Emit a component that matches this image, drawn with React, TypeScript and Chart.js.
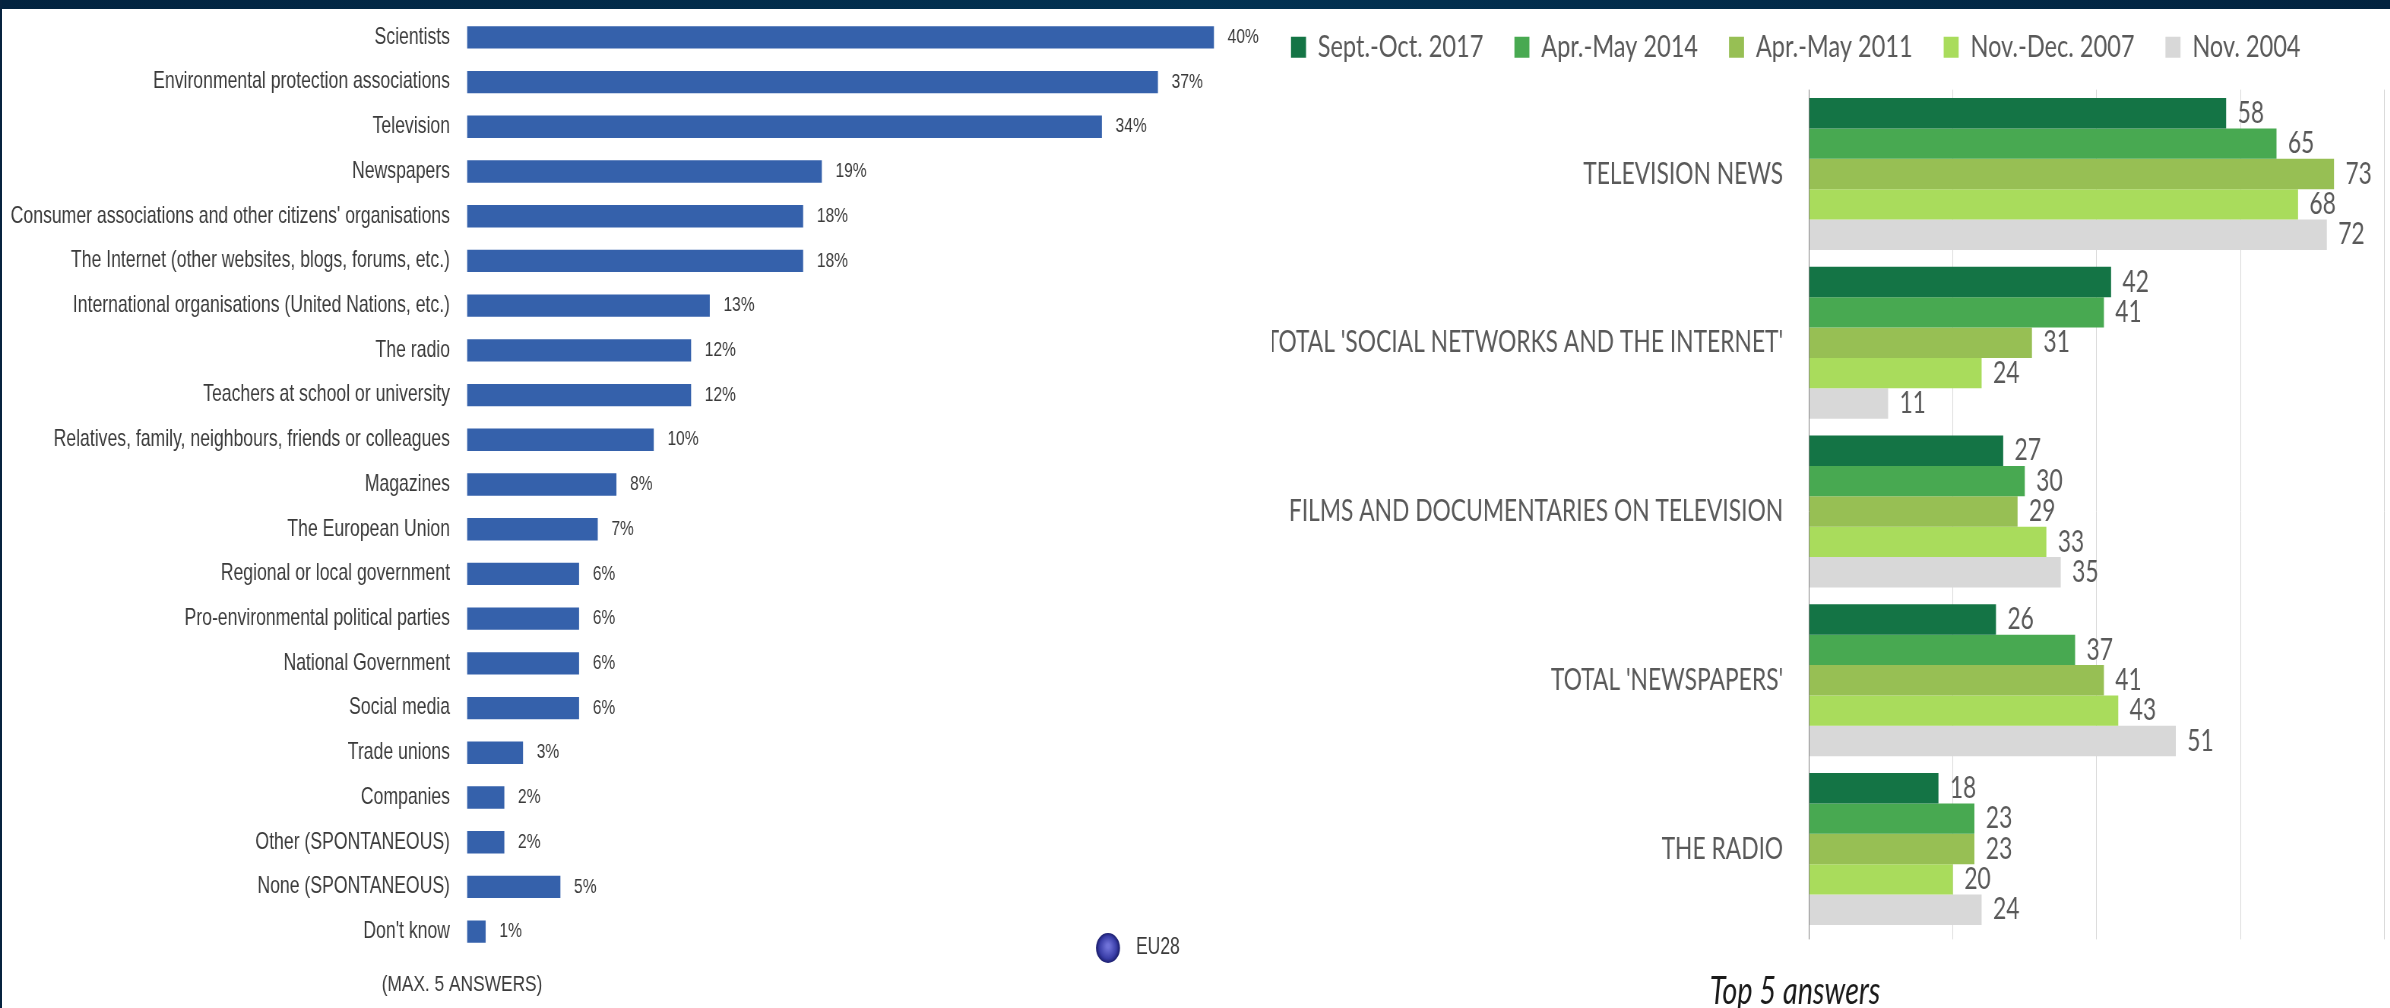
import { useEffect, useRef } from "react";
import { Chart, registerables } from "chart.js";

Chart.register(...registerables);

const answerLabels = [
  "Scientists",
  "Environmental protection associations",
  "Television",
  "Newspapers",
  "Consumer associations and other citizens' organisations",
  "The Internet (other websites, blogs, forums, etc.)",
  "International organisations (United Nations, etc.)",
  "The radio",
  "Teachers at school or university",
  "Relatives, family, neighbours, friends or colleagues",
  "Magazines",
  "The European Union",
  "Regional or local government",
  "Pro-environmental political parties",
  "National Government",
  "Social media",
  "Trade unions",
  "Companies",
  "Other (SPONTANEOUS)",
  "None (SPONTANEOUS)",
  "Don't know",
];
const answerShares = [40, 37, 34, 19, 18, 18, 13, 12, 12, 10, 8, 7, 6, 6, 6, 6, 3, 2, 2, 5, 1];

const sourceLabels = [
  "TELEVISION NEWS",
  "TOTAL 'SOCIAL NETWORKS AND THE INTERNET'",
  "FILMS AND DOCUMENTARIES ON TELEVISION",
  "TOTAL 'NEWSPAPERS'",
  "THE RADIO",
];
const wave2017 = [58, 42, 27, 26, 18];
const wave2014 = [65, 41, 30, 37, 23];
const wave2011 = [73, 31, 29, 41, 23];
const wave2007 = [68, 24, 33, 43, 20];
const wave2004 = [72, 11, 35, 51, 24];

const LEFT_FONT = '"Liberation Sans", sans-serif';
const RIGHT_FONT = 'Lato, "Open Sans", sans-serif';

// The type in both panels is condensed: each canvas is laid out wider than it
// shows and squeezed horizontally with a CSS transform.
const LEFT_SQUEEZE = 0.76;
const RIGHT_SQUEEZE = 0.76;
const LEFT_CANVAS_W = 1270 / LEFT_SQUEEZE;
const RIGHT_SCREEN_LEFT = 1260;
const RIGHT_CANVAS_W = (2390 - RIGHT_SCREEN_LEFT) / RIGHT_SQUEEZE;
const RIGHT_TOP_SHIFT = 9;

// Writes each bar's value just past its end.
const barValues = {
  id: "barValues",
  afterDatasetsDraw(chart: any, _a: any, opts: any) {
    const { ctx } = chart;
    ctx.save();
    ctx.font = opts.font;
    ctx.fillStyle = opts.color;
    ctx.textAlign = "left";
    ctx.textBaseline = "middle";
    chart.data.datasets.forEach((ds: any, i: number) => {
      chart.getDatasetMeta(i).data.forEach((bar: any, j: number) => {
        ctx.fillText(`${ds.data[j]}${opts.suffix}`, bar.x + opts.gap, bar.y);
      });
    });
    ctx.restore();
  },
};

// Free-standing captions placed in canvas coordinates.
const captions = {
  id: "captions",
  afterDraw(chart: any, _a: any, opts: any) {
    const { ctx } = chart;
    ctx.save();
    for (const c of opts.items ?? []) {
      ctx.font = c.font;
      ctx.fillStyle = c.color;
      ctx.textAlign = c.align ?? "left";
      ctx.textBaseline = "middle";
      ctx.fillText(c.text, c.x, c.y);
    }
    ctx.restore();
  },
};

// Round EU28 marker next to the left panel.
const euMarker = {
  id: "euMarker",
  afterDraw(chart: any, _a: any, opts: any) {
    if (!opts.show) return;
    const { ctx } = chart;
    const { x, y, rx, ry } = opts;
    ctx.save();
    const g = ctx.createRadialGradient(x, y - 2, 2, x, y, ry);
    g.addColorStop(0, "#6f72d8");
    g.addColorStop(0.7, "#3a3ea8");
    g.addColorStop(1, "#1c1f70");
    ctx.fillStyle = g;
    ctx.beginPath();
    ctx.ellipse(x, y, rx, ry, 0, 0, Math.PI * 2);
    ctx.fill();
    ctx.restore();
  },
};

// Gives the legend a fixed block height so the plot starts right under it.
const legendHeight = {
  id: "legendHeight",
  beforeLayout(chart: any, _a: any, opts: any) {
    const legend = chart.legend;
    if (!legend || legend.__fixed) return;
    const fit = legend.fit;
    legend.fit = function () {
      fit.call(this);
      this.height = opts.height;
    };
    legend.__fixed = true;
  },
};

export default function App() {
  const leftRef = useRef<HTMLCanvasElement>(null);
  const rightRef = useRef<HTMLCanvasElement>(null);

  useEffect(() => {
    const left = new Chart(leftRef.current!, {
      type: "bar",
      data: {
        labels: answerLabels,
        datasets: [
          {
            label: "EU28",
            data: answerShares,
            backgroundColor: "#3561ab",
            barPercentage: 1,
            categoryPercentage: 0.5,
          },
        ],
      },
      plugins: [barValues, captions, euMarker],
      options: {
        indexAxis: "y",
        animation: false,
        responsive: false,
        layout: { padding: { top: 15, bottom: 54, left: 0, right: 0 } },
        scales: {
          x: { min: 0, max: 43, display: false },
          y: {
            grid: { display: false },
            border: { display: false },
            afterFit: (s: any) => {
              s.width = 467 / LEFT_SQUEEZE;
              s.paddingTop = 0;
              s.paddingBottom = 0;
            },
            ticks: {
              autoSkip: false,
              color: "#3a3a3a",
              font: { family: LEFT_FONT, size: 23.2 },
              padding: 14.4,
            },
          },
        },
        plugins: {
          legend: { display: false },
          tooltip: { enabled: false },
          barValues: { font: `20.5px ${LEFT_FONT}`, color: "#3a3a3a", suffix: "%", gap: 18 },
          euMarker: { show: true, x: 1108 / LEFT_SQUEEZE, y: 948, rx: 12 / LEFT_SQUEEZE, ry: 15 },
          captions: {
            items: [
              { text: "(MAX. 5 ANSWERS)", x: 462 / LEFT_SQUEEZE, y: 985, align: "center", font: `22.8px ${LEFT_FONT}`, color: "#3a3a3a" },
              { text: "EU28", x: 1136 / LEFT_SQUEEZE, y: 948, font: `23px ${LEFT_FONT}`, color: "#3a3a3a" },
            ],
          },
        } as any,
      },
    } as any);

    const waves: [string, number[], string][] = [
      ["Sept.-Oct. 2017", wave2017, "#147445"],
      ["Apr.-May 2014", wave2014, "#48a951"],
      ["Apr.-May 2011", wave2011, "#97bf54"],
      ["Nov.-Dec. 2007", wave2007, "#a9dc5c"],
      ["Nov. 2004", wave2004, "#d8d8d8"],
    ];

    const right = new Chart(rightRef.current!, {
      type: "bar",
      data: {
        labels: sourceLabels,
        datasets: waves.map(([label, data, color]) => ({
          label,
          data,
          backgroundColor: color,
          barPercentage: 1,
          categoryPercentage: 0.9,
        })),
      },
      plugins: [legendHeight, barValues, captions],
      options: {
        indexAxis: "y",
        animation: false,
        responsive: false,
        layout: { padding: { top: 0, bottom: 68.6, left: 0, right: 5 / RIGHT_SQUEEZE } },
        scales: {
          x: {
            min: 0,
            max: 80,
            position: "bottom",
            border: { display: false },
            grid: {
              color: (c: any) => (c.tick?.value === 0 ? "#808080" : "#d9d9d9"),
              tickLength: 6,
            },
            ticks: { display: false, stepSize: 20 },
          },
          y: {
            grid: { display: false },
            border: { display: false },
            afterFit: (s: any) => { s.width = (1809 - RIGHT_SCREEN_LEFT) / RIGHT_SQUEEZE; },
            ticks: {
              autoSkip: false,
              color: "#595959",
              font: { family: RIGHT_FONT, size: 30 },
              padding: 26,
            },
          },
        },
        plugins: {
          tooltip: { enabled: false },
          legendHeight: { height: 89.6 + RIGHT_TOP_SHIFT },
          legend: {
            position: "top",
            align: "start",
            labels: {
              boxWidth: 15 / RIGHT_SQUEEZE,
              boxHeight: 21,
              padding: 31 / RIGHT_SQUEEZE,
              color: "#595959",
              font: { family: RIGHT_FONT, size: 31 },
            },
          },
          barValues: { font: `30px ${RIGHT_FONT}`, color: "#595959", suffix: "", gap: 15 },
          captions: {
            items: [
              {
                text: "Top 5 answers",
                x: (1795 - RIGHT_SCREEN_LEFT) / RIGHT_SQUEEZE,
                y: 992 + RIGHT_TOP_SHIFT,
                align: "center",
                font: `italic 38px ${RIGHT_FONT}`,
                color: "#1a1a1a",
              },
            ],
          },
        } as any,
      },
    } as any);

    return () => {
      left.destroy();
      right.destroy();
    };
  }, []);

  const squeezed = (scale: number) => ({ transform: `scaleX(${scale})`, transformOrigin: "0 0" });

  return (
    <div style={{ position: "absolute", left: 0, top: 0, width: 2390, height: 1008, background: "#fff", overflow: "hidden" }}>
      <canvas
        ref={leftRef}
        width={LEFT_CANVAS_W}
        height={1008}
        style={{ position: "absolute", left: 0, top: 0, ...squeezed(LEFT_SQUEEZE) }}
      />
      <div style={{ position: "absolute", left: 1272, top: 0, width: 1118, height: 1008, overflow: "hidden" }}>
        <canvas
          ref={rightRef}
          width={RIGHT_CANVAS_W}
          height={1008 + RIGHT_TOP_SHIFT}
          style={{ position: "absolute", left: RIGHT_SCREEN_LEFT - 1272, top: -RIGHT_TOP_SHIFT, ...squeezed(RIGHT_SQUEEZE) }}
        />
      </div>
      <div style={{ position: "absolute", left: 0, top: 0, width: 2390, height: 9, background: "linear-gradient(90deg,#03233f,#033252 50%,#03233f)" }} />
      <div style={{ position: "absolute", left: 0, top: 0, width: 2, height: 1008, background: "#06233f" }} />
    </div>
  );
}
